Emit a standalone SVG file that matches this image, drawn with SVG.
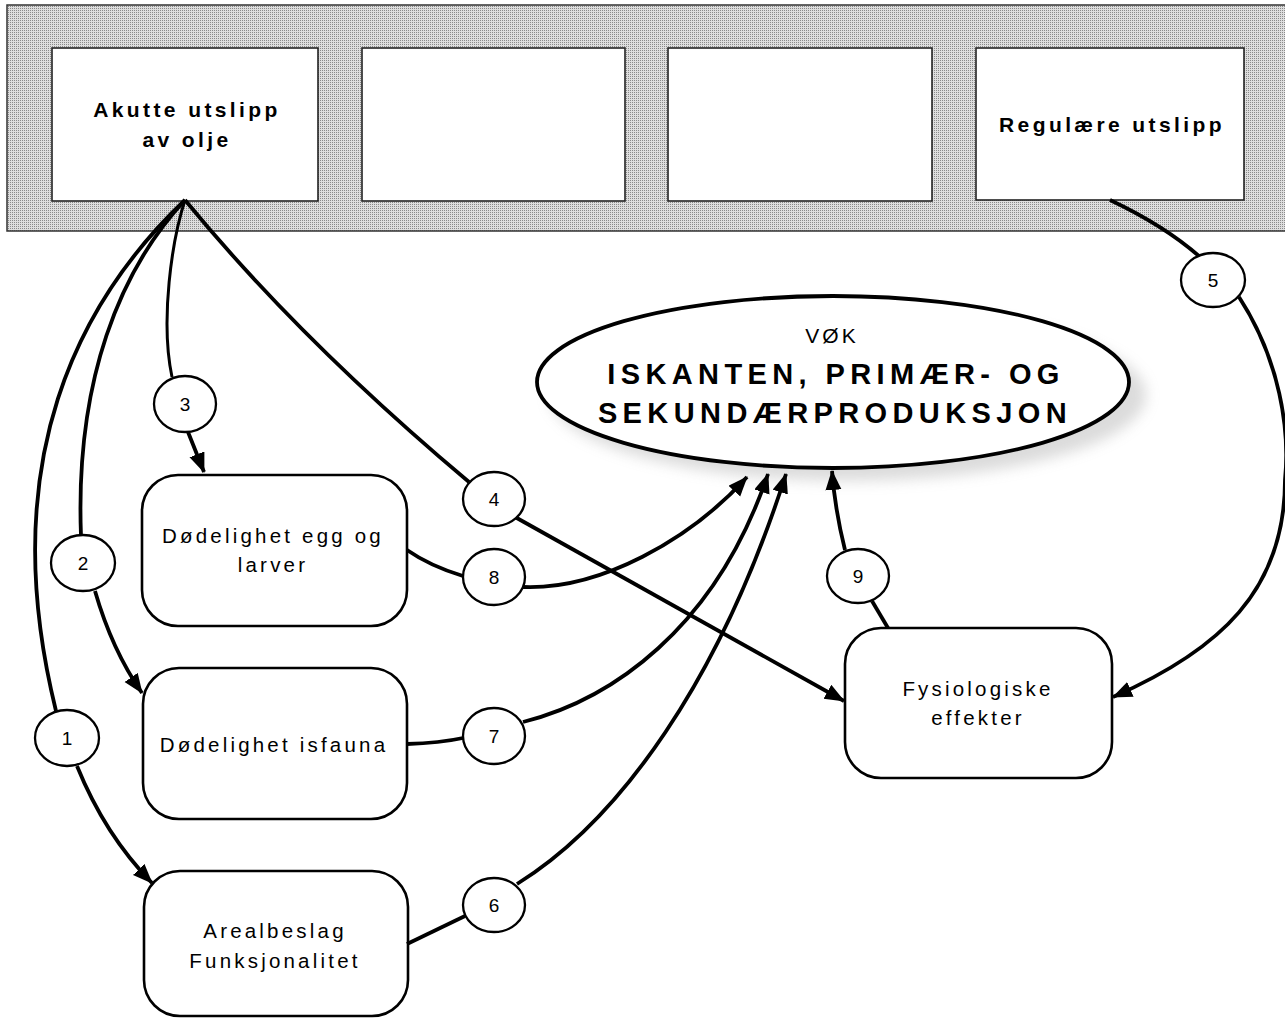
<svg xmlns="http://www.w3.org/2000/svg" width="1285" height="1018" viewBox="0 0 1285 1018">
  <defs>
    <!-- halftone screen for the header band -->
    <pattern id="screen" width="2" height="2" patternUnits="userSpaceOnUse">
      <rect width="2" height="2" fill="#dedede"/>
      <rect width="1" height="1" fill="#8a8a8a"/>
    </pattern>
    <filter id="soft" x="-20%" y="-40%" width="140%" height="180%">
      <feGaussianBlur stdDeviation="7"/>
    </filter>
    <marker id="arrow" markerUnits="userSpaceOnUse" markerWidth="22" markerHeight="18" refX="19" refY="8" orient="auto">
      <path d="M0,0 L20,8 L0,16 z" fill="#000"/>
    </marker>
    <style>
      .src { fill: #fff; stroke: #222; stroke-width: 1.6; }
      .box { fill: #fff; stroke: #000; stroke-width: 2.6; }
      .num { fill: #fff; stroke: #000; stroke-width: 2.3; }
      .link { fill: none; stroke: #000; stroke-width: 3.8; }
      .thin { stroke-width: 3; }
      .head { marker-end: url(#arrow); }
      text { font-family: "Liberation Sans", Arial, Helvetica, sans-serif; fill: #000; text-anchor: middle; }
      .srcLabel { font-size: 21px; font-weight: bold; letter-spacing: 3.4px; }
      .label { font-size: 20.5px; letter-spacing: 3.2px; }
      .digit { font-size: 19px; }
      .hub1 { font-size: 21px; letter-spacing: 3px; }
      .hub2 { font-size: 29px; font-weight: bold; letter-spacing: 5.4px; }
    </style>
  </defs>

  <!-- header band with four source boxes -->
  <g id="band">
    <rect x="7" y="5" width="1290" height="226" fill="url(#screen)" stroke="#333" stroke-width="1.5"/>
  </g>
  <g id="akutte">
    <rect class="src" x="52" y="48" width="266" height="153"/>
    <text class="srcLabel" x="187" y="117">Akutte utslipp</text>
    <text class="srcLabel" x="187" y="147">av olje</text>
  </g>
  <g id="source2">
    <rect class="src" x="362" y="48" width="263" height="153"/>
  </g>
  <g id="source3">
    <rect class="src" x="668" y="48" width="264" height="153"/>
  </g>
  <g id="regulaere">
    <rect class="src" x="976" y="48" width="268" height="152"/>
    <text class="srcLabel" x="1112" y="132">Regulære utslipp</text>
  </g>

  <!-- central ellipse -->
  <g id="vok">
    <ellipse cx="848" cy="395" rx="298" ry="86" fill="#9a9a9a" opacity="0.35" filter="url(#soft)"/>
    <ellipse cx="833" cy="382" rx="296" ry="86" fill="#fff" stroke="#000" stroke-width="3.8"/>
    <text class="hub1" x="832" y="343">VØK</text>
    <text class="hub2" x="836" y="384">ISKANTEN, PRIMÆR- OG</text>
    <text class="hub2" x="835" y="423">SEKUNDÆRPRODUKSJON</text>
  </g>

  <!-- effect boxes -->
  <g id="egg">
    <rect class="box" x="142" y="475" width="265" height="151" rx="36" ry="36"/>
    <text class="label" x="273" y="543">Dødelighet egg og</text>
    <text class="label" x="273" y="572">larver</text>
  </g>
  <g id="isfauna">
    <rect class="box" x="143" y="668" width="264" height="151" rx="36" ry="36"/>
    <text class="label" x="274" y="752">Dødelighet isfauna</text>
  </g>
  <g id="areal">
    <rect class="box" x="144" y="871" width="264" height="145" rx="36" ry="36"/>
    <text class="label" x="275" y="938">Arealbeslag</text>
    <text class="label" x="275" y="968">Funksjonalitet</text>
  </g>
  <g id="fysio">
    <rect class="box" x="845" y="628" width="267" height="150" rx="36" ry="36"/>
    <text class="label" x="978" y="696">Fysiologiske</text>
    <text class="label" x="978" y="725">effekter</text>
  </g>

  <!-- connectors -->
  <g id="connectors">
    <!-- 1 -->
    <path class="link" d="M185,200 C80,300 -6,460 56,711"/>
    <path class="link head" d="M77,766 Q105,835 152,883"/>
    <!-- 2 -->
    <path class="link" d="M185,200 C120,270 75,380 81,536"/>
    <path class="link head" d="M95,591 Q112,650 142,693"/>
    <!-- 3 -->
    <path class="link thin" d="M185,200 C172,240 160,320 172,377"/>
    <path class="link head" d="M188,432 L204,472"/>
    <!-- 4 -->
    <path class="link" d="M185,200 Q300,340 469,482"/>
    <path class="link head" d="M515,517 L844,701"/>
    <!-- 5 -->
    <path class="link" d="M1110,200 Q1165,226 1200,257"/>
    <path class="link head" d="M1239,297 C1280,360 1290,430 1285,480 C1285,590 1220,650 1113,697"/>
    <!-- 6 -->
    <path class="link" d="M407,944 Q440,928 465,916"/>
    <path class="link head" d="M517,884 C620,820 720,680 786,474"/>
    <!-- 7 -->
    <path class="link" d="M407,744 Q440,743 463,738"/>
    <path class="link head" d="M523,722 C610,700 715,630 768,474"/>
    <!-- 8 -->
    <path class="link" d="M407,550 Q430,566 463,576"/>
    <path class="link head" d="M523,587 C600,590 690,540 747,477"/>
    <!-- 9 -->
    <path class="link" d="M888,628 L872,601"/>
    <path class="link head" d="M845,550 Q835,510 832,471"/>
  </g>

  <!-- numbered markers on the connectors -->
  <g id="n1"><ellipse class="num" cx="67" cy="738" rx="32" ry="28"/><text class="digit" x="67" y="745">1</text></g>
  <g id="n2"><ellipse class="num" cx="83" cy="563" rx="32" ry="28"/><text class="digit" x="83" y="570">2</text></g>
  <g id="n3"><ellipse class="num" cx="185" cy="404" rx="31" ry="28"/><text class="digit" x="185" y="411">3</text></g>
  <g id="n4"><ellipse class="num" cx="494" cy="499" rx="31" ry="27"/><text class="digit" x="494" y="506">4</text></g>
  <g id="n5"><ellipse class="num" cx="1213" cy="280" rx="32" ry="27"/><text class="digit" x="1213" y="287">5</text></g>
  <g id="n6"><ellipse class="num" cx="494" cy="905" rx="31" ry="27"/><text class="digit" x="494" y="912">6</text></g>
  <g id="n7"><ellipse class="num" cx="494" cy="736" rx="31" ry="28"/><text class="digit" x="494" y="743">7</text></g>
  <g id="n8"><ellipse class="num" cx="494" cy="577" rx="31" ry="28"/><text class="digit" x="494" y="584">8</text></g>
  <g id="n9"><ellipse class="num" cx="858" cy="576" rx="31" ry="27"/><text class="digit" x="858" y="583">9</text></g>
</svg>
